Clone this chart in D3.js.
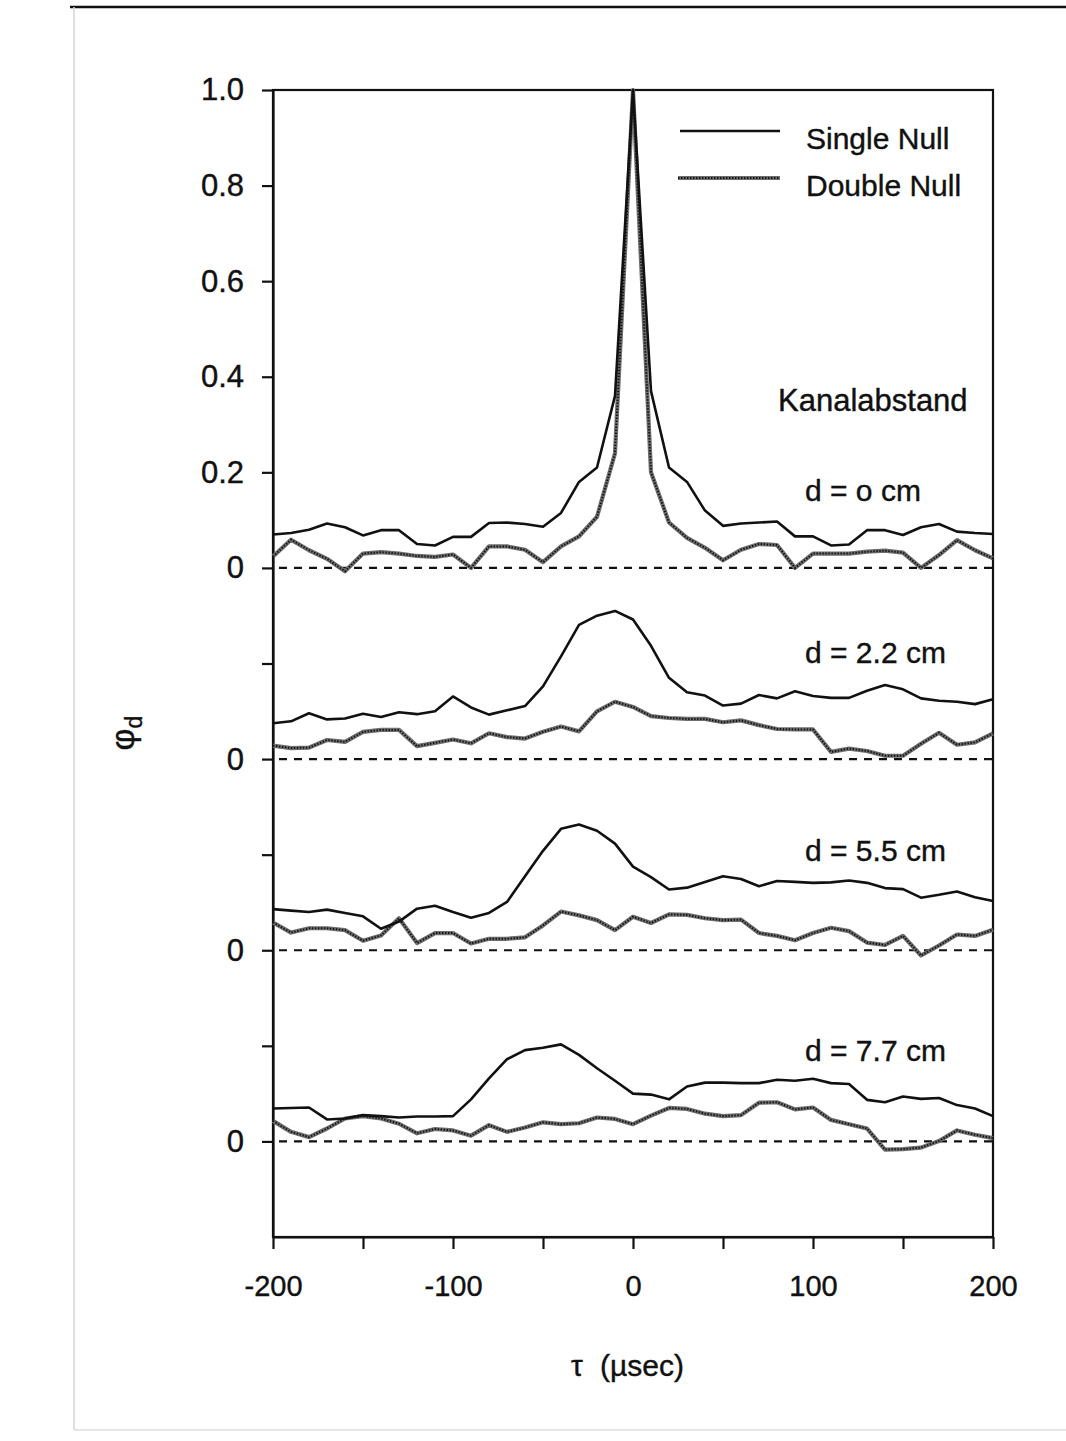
<!DOCTYPE html>
<html>
<head>
<meta charset="utf-8">
<script src="https://cdn.jsdelivr.net/npm/d3@7"></script>
<style>
  body { margin: 0; background: #fff; }
  svg { display: block; }
  text { font-family: "Liberation Sans", Arial, Helvetica, sans-serif; fill: #111; stroke: #111; stroke-width: 0.4px; }
</style>
</head>
<body>
<div id="chart"></div>
<script>
// time lag tau in microseconds
const tau = [-200, -190, -180, -170, -160, -150, -140, -130, -120, -110,
             -100, -90, -80, -70, -60, -50, -40, -30, -20, -10,
             0, 10, 20, 30, 40, 50, 60, 70, 80, 90,
             100, 110, 120, 130, 140, 150, 160, 170, 180, 190, 200];

// d = 0 cm
const single0 = [0.070, 0.073, 0.080, 0.093, 0.085, 0.068, 0.079, 0.079, 0.050, 0.047,
                 0.065, 0.065, 0.094, 0.095, 0.092, 0.086, 0.115, 0.180, 0.210, 0.360,
                 1.000, 0.370, 0.210, 0.180, 0.120, 0.088, 0.093, 0.095, 0.097, 0.066,
                 0.066, 0.047, 0.049, 0.079, 0.079, 0.069, 0.085, 0.092, 0.076, 0.073, 0.071];
const double0 = [0.024, 0.059, 0.037, 0.019, -0.007, 0.030, 0.033, 0.030, 0.025, 0.023,
                 0.028, 0.000, 0.045, 0.045, 0.038, 0.012, 0.045, 0.066, 0.107, 0.240,
                 1.000, 0.200, 0.095, 0.063, 0.042, 0.016, 0.038, 0.050, 0.048, 0.000,
                 0.030, 0.030, 0.030, 0.034, 0.036, 0.032, 0.000, 0.027, 0.058, 0.037, 0.020];

// d = 2.2 cm
const single22 = [0.075, 0.079, 0.096, 0.083, 0.085, 0.095, 0.088, 0.098, 0.094, 0.100,
                  0.131, 0.108, 0.093, 0.102, 0.111, 0.152, 0.215, 0.281, 0.300, 0.310,
                  0.292, 0.237, 0.170, 0.140, 0.133, 0.112, 0.116, 0.134, 0.127, 0.142,
                  0.132, 0.128, 0.128, 0.143, 0.155, 0.146, 0.127, 0.122, 0.120, 0.115, 0.125];
const double22 = [0.028, 0.023, 0.024, 0.040, 0.036, 0.057, 0.061, 0.061, 0.027, 0.034,
                  0.041, 0.033, 0.054, 0.046, 0.043, 0.057, 0.068, 0.058, 0.100, 0.120,
                  0.109, 0.090, 0.086, 0.084, 0.084, 0.077, 0.081, 0.071, 0.063, 0.062,
                  0.062, 0.015, 0.022, 0.017, 0.007, 0.007, 0.032, 0.055, 0.030, 0.035, 0.054];

// d = 5.5 cm
const single55 = [0.086, 0.083, 0.080, 0.085, 0.078, 0.071, 0.045, 0.060, 0.087, 0.093,
                  0.080, 0.068, 0.078, 0.101, 0.155, 0.208, 0.254, 0.263, 0.250, 0.223,
                  0.175, 0.153, 0.127, 0.131, 0.143, 0.155, 0.149, 0.134, 0.145, 0.143,
                  0.141, 0.142, 0.146, 0.141, 0.130, 0.128, 0.110, 0.116, 0.123, 0.111, 0.103];
const double55 = [0.058, 0.037, 0.046, 0.046, 0.042, 0.020, 0.031, 0.067, 0.015, 0.036,
                  0.036, 0.014, 0.024, 0.024, 0.027, 0.052, 0.081, 0.073, 0.063, 0.042,
                  0.070, 0.057, 0.075, 0.074, 0.067, 0.063, 0.064, 0.036, 0.030, 0.021,
                  0.036, 0.047, 0.040, 0.016, 0.011, 0.030, -0.011, 0.010, 0.033, 0.030, 0.043];

// d = 7.7 cm
const single77 = [0.069, 0.070, 0.071, 0.046, 0.048, 0.055, 0.053, 0.050, 0.052, 0.052,
                  0.053, 0.088, 0.132, 0.172, 0.191, 0.196, 0.203, 0.181, 0.153, 0.127,
                  0.100, 0.098, 0.088, 0.115, 0.123, 0.123, 0.122, 0.122, 0.129, 0.127,
                  0.131, 0.122, 0.120, 0.087, 0.082, 0.094, 0.089, 0.091, 0.076, 0.069, 0.053];
const double77 = [0.043, 0.020, 0.009, 0.027, 0.048, 0.053, 0.048, 0.037, 0.017, 0.026,
                  0.023, 0.012, 0.034, 0.020, 0.029, 0.040, 0.036, 0.038, 0.050, 0.047,
                  0.036, 0.054, 0.070, 0.068, 0.058, 0.053, 0.055, 0.081, 0.082, 0.067,
                  0.071, 0.045, 0.036, 0.027, -0.017, -0.016, -0.013, 0.001, 0.023, 0.014, 0.007];

// each panel is shifted down by 0.4 on the common axis
const panelLabels = ['d = o cm', 'd = 2.2 cm', 'd = 5.5 cm', 'd = 7.7 cm'];
const panelOffsets = [0, -0.4, -0.8, -1.2];
const singleSeries = [single0, single22, single55, single77];
const doubleSeries = [double0, double22, double55, double77];

const yTickValues = [1.0, 0.8, 0.6, 0.4, 0.2, 0, -0.2, -0.4, -0.6, -0.8, -1.0, -1.2];
const yTickLabels = ['1.0', '0.8', '0.6', '0.4', '0.2', '0', '', '0', '', '0', '', '0'];
const xTickValues = [-200, -150, -100, -50, 0, 50, 100, 150, 200];
const xTickLabels = ['-200', '', '-100', '', '0', '', '100', '', '200'];

const legendNames = ['Single Null', 'Double Null'];

const width = 1066, height = 1441;
const margin = {top: 90, right: 73, bottom: 204, left: 273};

const svg = d3.select('#chart').append('svg')
    .attr('width', width)
    .attr('height', height)
    .attr('viewBox', [0, 0, width, height]);

// page frame of the scanned figure
svg.append('line')
    .attr('x1', 70).attr('x2', width).attr('y1', 7).attr('y2', 7)
    .attr('stroke', '#111').attr('stroke-width', 2.5);
svg.append('line')
    .attr('x1', 74).attr('x2', 74).attr('y1', 7).attr('y2', 1430)
    .attr('stroke', '#d4d4d4').attr('stroke-width', 1.5);
svg.append('line')
    .attr('x1', 74).attr('x2', width).attr('y1', 1430).attr('y2', 1430)
    .attr('stroke', '#dcdcdc').attr('stroke-width', 1.5);

const x = d3.scaleLinear()
    .domain([-200, 200])
    .range([margin.left, width - margin.right]);

const y = d3.scaleLinear()
    .domain([-1.4, 1.0])
    .range([height - margin.bottom, margin.top]);

// plot box
svg.append('rect')
    .attr('x', x(-200)).attr('y', y(1.0))
    .attr('width', x(200) - x(-200)).attr('height', y(-1.4) - y(1.0))
    .attr('fill', 'none').attr('stroke', '#111').attr('stroke-width', 2.2);

const yAxis = svg.append('g')
    .attr('transform', `translate(${x(-200)},0)`)
    .call(d3.axisLeft(y)
        .tickValues(yTickValues)
        .tickFormat((d, i) => yTickLabels[i])
        .tickSize(11)
        .tickSizeOuter(0)
        .tickPadding(18));

const xAxis = svg.append('g')
    .attr('transform', `translate(0,${y(-1.4)})`)
    .call(d3.axisBottom(x)
        .tickValues(xTickValues)
        .tickFormat((d, i) => xTickLabels[i])
        .tickSize(12)
        .tickSizeOuter(0)
        .tickPadding(26));

[yAxis, xAxis].forEach(g => {
    g.select('.domain').attr('stroke', '#111').attr('stroke-width', 2.2);
    g.selectAll('.tick line').attr('stroke', '#111').attr('stroke-width', 2.2);
    g.selectAll('.tick text')
        .attr('fill', '#111')
        .style('font-family', '"Liberation Sans", Arial, sans-serif');
});
yAxis.selectAll('.tick text').style('font-size', '31px');
xAxis.selectAll('.tick text').style('font-size', '29px');

const line = d3.line()
    .x(d => x(d[0]))
    .y(d => y(d[1]));

// draws the textured "Double Null" stroke
function hatched(sel, d) {
    sel.append('path')
        .attr('d', d)
        .attr('fill', 'none').attr('stroke', '#6e6e6e').attr('stroke-width', 4.2)
        .attr('stroke-linejoin', 'round');
    sel.append('path')
        .attr('d', d)
        .attr('fill', 'none').attr('stroke', '#111').attr('stroke-width', 2)
        .attr('stroke-dasharray', '1.4,1.6');
}

const labelRows = [490, 652, 850, 1050];

panelOffsets.forEach((off, p) => {
    const g = svg.append('g').attr('class', 'panel');

    // dashed zero line
    g.append('line')
        .attr('x1', x(-200) + 6).attr('x2', x(200))
        .attr('y1', y(off)).attr('y2', y(off))
        .attr('stroke', '#111').attr('stroke-width', 2.2)
        .attr('stroke-dasharray', '8,7');

    const dbl = tau.map((t, i) => [t, doubleSeries[p][i] + off]);
    const sgl = tau.map((t, i) => [t, singleSeries[p][i] + off]);

    hatched(g, line(dbl));

    g.append('path')
        .attr('d', line(sgl))
        .attr('fill', 'none').attr('stroke', '#111').attr('stroke-width', 2.6)
        .attr('stroke-linejoin', 'round');

    g.append('text')
        .attr('x', 805).attr('y', labelRows[p])
        .attr('dy', '0.35em')
        .style('font-size', '30px')
        .text(panelLabels[p]);
});

svg.append('text')
    .attr('x', 778).attr('y', 400).attr('dy', '0.35em')
    .style('font-size', '31px')
    .text('Kanalabstand');

// legend
const legend = svg.append('g');
legendNames.forEach((name, i) => {
    const ly = 131 + i * 47;
    if (i === 0) {
        legend.append('line')
            .attr('x1', 680).attr('x2', 780).attr('y1', ly).attr('y2', ly)
            .attr('stroke', '#111').attr('stroke-width', 2.4);
    } else {
        hatched(legend, `M678,${ly}H780`);
    }
    legend.append('text')
        .attr('x', 806).attr('y', ly + 7).attr('dy', '0.35em')
        .style('font-size', '30px')
        .text(name);
});

// y axis title
const yTitle = svg.append('text')
    .attr('transform', 'translate(134,733) rotate(-90)')
    .attr('text-anchor', 'middle');
yTitle.append('tspan').style('font-size', '34px').text('φ');
yTitle.append('tspan').attr('dy', 8).style('font-size', '23px').text('d');

// x axis title
svg.append('text')
    .attr('x', 577).attr('y', 1365).attr('dy', '0.35em')
    .attr('text-anchor', 'middle')
    .style('font-size', '30px')
    .text('τ');
svg.append('text')
    .attr('x', 600).attr('y', 1365).attr('dy', '0.35em')
    .style('font-size', '30px')
    .text('(µsec)');
</script>
</body>
</html>
